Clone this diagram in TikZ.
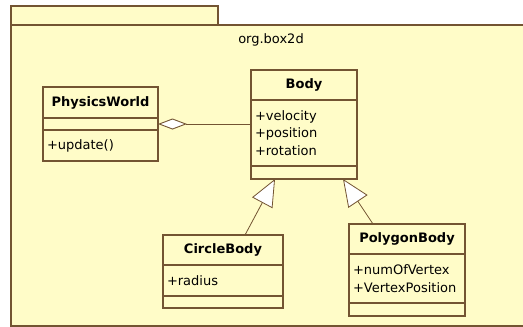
\documentclass[tikz,border=0pt]{standalone}
\usepackage{fontspec}
\setmainfont{DejaVu Sans}
\usetikzlibrary{positioning,arrows.meta}

\definecolor{umlfill}{RGB}{255,252,200}
\definecolor{umlline}{RGB}{115,84,50}
\newcommand{\umltext}{\fontsize{13}{17.5}\selectfont}

\tikzset{
  classname/.style={draw=umlline, fill=umlfill, line width=1.2pt, outer sep=0pt,
    inner sep=0pt, font=\umltext\bfseries, align=center},
  classpart/.style={draw=umlline, fill=umlfill, line width=1.2pt, outer sep=0pt,
    inner xsep=4pt, inner ysep=0pt, font=\umltext, align=left},
  aggr/.style={draw=umlline, line width=0.9pt, {Diamond[fill=white, length=29pt, width=11pt]}-},
  inherit/.style={draw=umlline, line width=0.8pt, -{Triangle[fill=white, length=27pt, width=23pt]}}
}

\begin{document}
\begin{tikzpicture}[x=1pt, y=-1pt]
    \clip (0,0) rectangle (523,327);

    % package
    \draw[draw=umlline, fill=umlfill, line width=1.2pt] (11,6) rectangle (218,25);
    \draw[draw=umlline, fill=umlfill, line width=1.2pt] (11,25) rectangle (540,326);
    \node[font=\umltext] (pkglabel) at (271,40) {org.box2d};

    % classes
    \node[classname, minimum width=115pt, minimum height=31pt, anchor=north west] (pwname) at (43,87) {PhysicsWorld};
    \node[classpart, text width=107pt, minimum height=12pt, below=0pt of pwname] (pwattr) {};
    \node[classpart, text width=107pt, minimum height=31pt, below=0pt of pwattr] (pwops) {+update()};

    \node[classname, minimum width=106pt, minimum height=30pt, anchor=north west] (bodyname) at (251,70) {Body};
    \node[classpart, text width=98pt, minimum height=66pt, below=0pt of bodyname] (bodyattr) {+velocity\\+position\\+rotation};
    \node[classpart, text width=98pt, minimum height=13pt, below=0pt of bodyattr] (bodyops) {};

    \node[classname, minimum width=120pt, minimum height=30pt, anchor=north west] (cbname) at (163,235) {CircleBody};
    \node[classpart, text width=112pt, minimum height=31pt, below=0pt of cbname] (cbattr) {+radius};
    \node[classpart, text width=112pt, minimum height=12pt, below=0pt of cbattr] (cbops) {};

    \node[classname, minimum width=116pt, minimum height=30pt, anchor=north west] (pbname) at (349,224) {PolygonBody};
    \node[classpart, text width=108pt, minimum height=49pt, below=0pt of pbname] (pbattr) {+numOfVertex\\+VertexPosition};
    \node[classpart, text width=108pt, minimum height=13pt, below=0pt of pbattr] (pbops) {};

    % relations
    \draw[aggr] (pwattr.east) -- (pwattr.east -| bodyattr.west);
    \draw[inherit] ([xshift=22pt]cbname.north) -- ([xshift=-29pt]bodyops.south);
    \draw[inherit] ([xshift=-34pt]pbname.north) -- ([xshift=39pt]bodyops.south);
\end{tikzpicture}
\end{document}
